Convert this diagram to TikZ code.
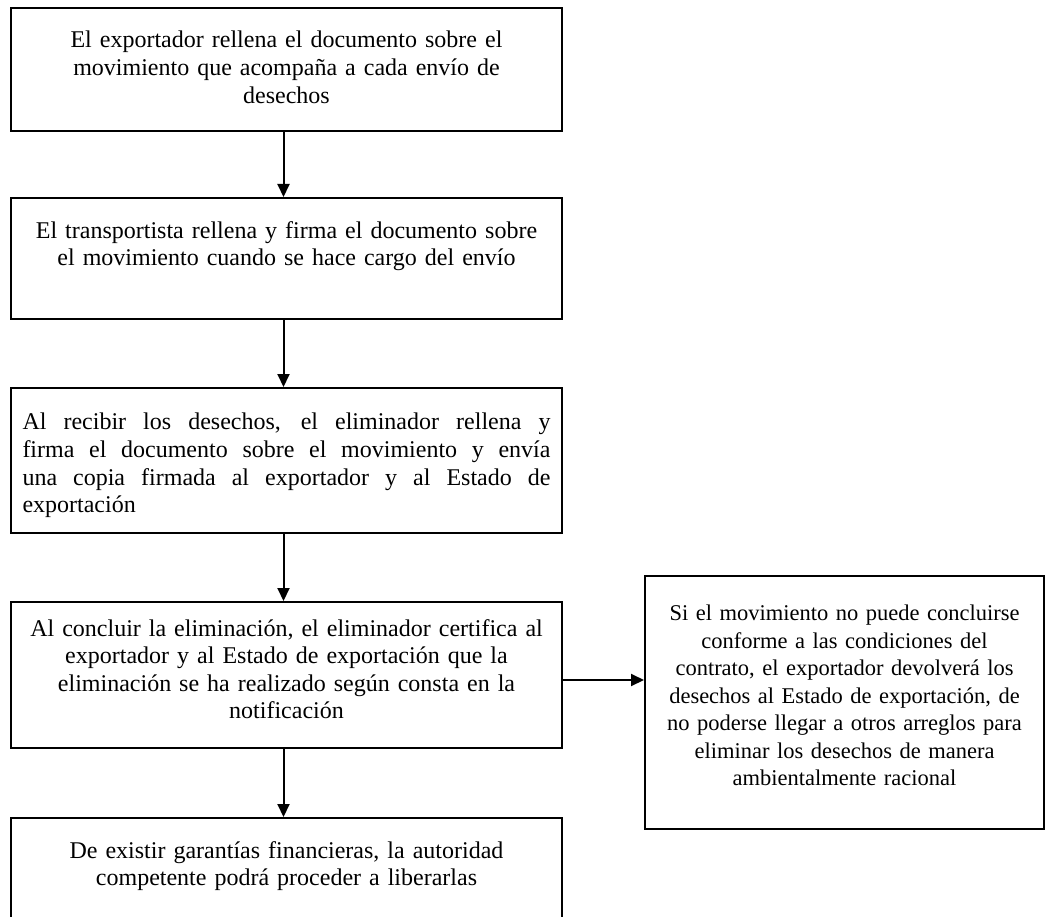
\documentclass[tikz,border=0pt]{standalone}
\usepackage{fontspec}
\setmainfont{Liberation Serif}
\usetikzlibrary{arrows.meta}
\begin{document}
\begin{tikzpicture}[x=1pt,y=-1pt,
  box/.style={draw, line width=2pt, inner sep=0pt, anchor=north},
  txt/.style={anchor=north, inner sep=0pt, text width=#1, align=center,
    font=\fontsize{24}{27.6}\selectfont},
  rtxt/.style={anchor=north, inner sep=0pt, text width=#1, align=center,
    font=\fontsize{22.5}{27.5}\selectfont},
  jtxt/.style={anchor=north, inner sep=0pt, text width=#1, align=justify,
    font=\fontsize{24}{27.6}\selectfont},
  arr/.style={line width=2pt, -{Triangle[length=13pt,width=12pt]}}]
\useasboundingbox (0,0) rectangle (1046,917);
% boxes
\node[box, minimum width=551pt, minimum height=123pt] (b1) at (286.5,7) {};
\node[box, minimum width=551pt, minimum height=121pt] (b2) at (286.5,197) {};
\node[box, minimum width=551pt, minimum height=145pt] (b3) at (286.5,387) {};
\node[box, minimum width=551pt, minimum height=146pt] (b4) at (286.5,601) {};
\node[box, minimum width=551pt, minimum height=110pt] (b5) at (286.5,817) {};
\node[box, minimum width=399pt, minimum height=253pt] (r) at (844.5,575) {};
% texts
\node[txt=550pt] (t1) at ([yshift=-24pt]b1.north) {El exportador rellena el documento sobre el\\ movimiento que acompaña a cada envío de\\ desechos};
\node[txt=550pt] (t2) at ([yshift=-24pt]b2.north) {El transportista rellena y firma el documento sobre\\ el movimiento cuando se hace cargo del envío};
\node[jtxt=528pt] (t3) at ([yshift=-26pt]b3.north) {Al recibir los desechos, el eliminador rellena y\linebreak firma el documento sobre el movimiento y envía\linebreak una copia firmada al exportador y al Estado de\linebreak exportación};
\node[txt=550pt] (t4) at ([yshift=-18pt]b4.north) {Al concluir la eliminación, el eliminador certifica al\\ exportador y al Estado de exportación que la\\ eliminación se ha realizado según consta en la\\ notificación};
\node[txt=550pt] (t5) at ([yshift=-24pt]b5.north) {De existir garantías financieras, la autoridad\\ competente podrá proceder a liberarlas};
\node[rtxt=397pt] (tr) at ([yshift=-30pt]r.north) {Si el movimiento no puede concluirse\\ conforme a las condiciones del\\ contrato, el exportador devolverá los\\ desechos al Estado de exportación, de\\ no poderse llegar a otros arreglos para\\ eliminar los desechos de manera\\ ambientalmente racional};
% arrows
\draw[arr] ([xshift=-3pt]b1.south) -- ([xshift=-3pt]b2.north);
\draw[arr] ([xshift=-3pt]b2.south) -- ([xshift=-3pt]b3.north);
\draw[arr] ([xshift=-3pt]b3.south) -- ([xshift=-3pt]b4.north);
\draw[arr] ([xshift=-3pt]b4.south) -- ([xshift=-3pt]b5.north);
\draw[arr] ([yshift=-5pt]b4.east) -- ([yshift=-5pt]b4.east -| r.west);
\end{tikzpicture}
\end{document}
